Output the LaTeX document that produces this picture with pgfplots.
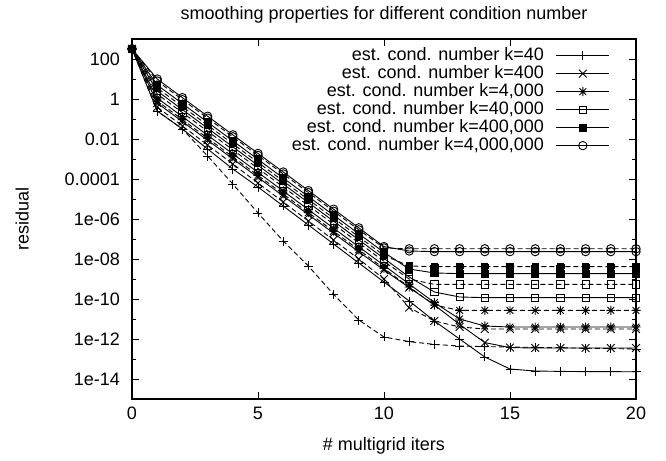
\documentclass[border=0pt]{standalone}
\usepackage{fontspec}
\setmainfont{Liberation Sans}
\usepackage{pgfplots}
\pgfplotsset{compat=1.18}

% gnuplot point type 3: + and x on top of each other
\pgfdeclareplotmark{gpstar}{%
  \pgfpathmoveto{\pgfqpoint{-\pgfplotmarksize}{0pt}}%
  \pgfpathlineto{\pgfqpoint{\pgfplotmarksize}{0pt}}%
  \pgfpathmoveto{\pgfqpoint{0pt}{-\pgfplotmarksize}}%
  \pgfpathlineto{\pgfqpoint{0pt}{\pgfplotmarksize}}%
  \pgfpathmoveto{\pgfqpoint{-.75\pgfplotmarksize}{-.75\pgfplotmarksize}}%
  \pgfpathlineto{\pgfqpoint{.75\pgfplotmarksize}{.75\pgfplotmarksize}}%
  \pgfpathmoveto{\pgfqpoint{-.75\pgfplotmarksize}{.75\pgfplotmarksize}}%
  \pgfpathlineto{\pgfqpoint{.75\pgfplotmarksize}{-.75\pgfplotmarksize}}%
  \pgfusepathqstroke}

\newcommand\gpfont{\fontsize{18bp}{21bp}\selectfont}

\pgfplotsset{
  sol/.style={black, line width=0.9bp},
  dsh/.style={black, line width=0.9bp, dash pattern=on 5bp off 3bp, mark options={solid}},
  mplus/.style={mark=+, mark size=4.5bp},
  mx/.style={mark=x, mark size=5.5bp},
  mstar/.style={mark=gpstar, mark size=4.5bp},
  mosq/.style={mark=square, mark size=3.6bp},
  mfsq/.style={mark=square*, mark size=3.6bp, mark options={fill=black}},
  mcirc/.style={mark=o, mark size=4.2bp},
}

\begin{document}
\begin{tikzpicture}
\path[use as bounding box] (-132bp,-62bp) rectangle (534bp,399bp);
\begin{axis}[
  scale only axis,
  width=504bp, height=360bp,
  xmin=0, xmax=20,
  ymode=log, ymin=1e-15, ymax=1e3,
  clip=false,
  axis line style={line width=1.1bp},
  tick align=inside,
  major tick length=7bp, minor tick length=4bp,
  every tick/.style={black, line width=0.8bp},
  xtick={0,5,10,15,20},
  xticklabels={0,5,10,15,20},
  minor xtick={},
  ytick={1e2,1,1e-2,1e-4,1e-6,1e-8,1e-10,1e-12,1e-14},
  yticklabels={100,1,0.01,0.0001,1e-06,1e-08,1e-10,1e-12,1e-14},
  minor ytick={1e3,1e1,1e-1,1e-3,1e-5,1e-7,1e-9,1e-11,1e-13,1e-15},
  xticklabel style={anchor=center, yshift=-14bp, inner sep=0pt},
  yticklabel style={anchor=east, xshift=-12bp, inner sep=0pt},
  tick label style={font=\gpfont},
  label style={font=\gpfont},
  title style={font=\gpfont, at={(axis description cs:0.5,1.05)}, anchor=center},
  title={smoothing properties for different condition number},
  xlabel={\# multigrid iters},
  ylabel={residual},
  xlabel style={at={(axis description cs:0.5,-0.13)}, anchor=center},
  ylabel style={at={(axis description cs:-0.218,0.5)}, anchor=center},
  legend plot pos=right,
  legend cell align=right,
  legend image code/.code={%
    \draw[mark repeat=2, mark phase=2, #1] plot coordinates {(0bp,0bp) (26.5bp,0bp) (53bp,0bp)};},
  legend style={draw=none, fill=none, at={(0.9484,0.978)}, anchor=north east,
    font=\gpfont, inner sep=0pt, row sep=1bp, column sep=12bp,
    nodes={inner sep=0pt, text height=13bp, text depth=4bp}},
]
% solid lines (in the key)
\addplot[sol, mplus] coordinates {
 (0,3.2e2)(1,2.51e-1)(2,3.16e-2)(3,3.16e-3)(4,3.16e-4)(5,3.98e-5)(6,4.47e-6)(7,5.01e-7)(8,5.62e-8)(9,6.31e-9)(10,7.08e-10)
 (11,7.94e-11)(12,7.94e-12)(13,1e-12)(14,1.26e-13)(15,3.16e-14)(16,2.51e-14)(17,2.4e-14)(18,2.34e-14)(19,2.34e-14)(20,2.29e-14)};
\addlegendentry{est. cond. number k=40}
\addplot[sol, mx] coordinates {
 (0,3.2e2)(1,6.31e-1)(2,7.41e-2)(3,8.71e-3)(4,1.02e-3)(5,1.2e-4)(6,1.41e-5)(7,1.66e-6)(8,1.95e-7)(9,2.29e-8)(10,2.82e-9)
 (11,3.72e-10)(12,5.01e-11)(13,5.37e-12)(14,6.61e-13)(15,3.72e-13)(16,3.55e-13)(17,3.55e-13)(18,3.55e-13)(19,3.55e-13)(20,3.55e-13)};
\addlegendentry{est. cond. number k=400}
\addplot[sol, mstar] coordinates {
 (0,3.2e2)(1,1.12e0)(2,1.32e-1)(3,1.55e-2)(4,1.82e-3)(5,2.14e-4)(6,2.51e-5)(7,2.95e-6)(8,3.47e-7)(9,4.07e-8)(10,4.79e-9)
 (11,5.62e-10)(12,6.61e-11)(13,1e-11)(14,4.47e-12)(15,3.98e-12)(16,3.98e-12)(17,3.98e-12)(18,3.98e-12)(19,3.98e-12)(20,3.98e-12)};
\addlegendentry{est. cond. number k=4,000}
\addplot[sol, mosq] coordinates {
 (0,3.2e2)(1,2.51e0)(2,2.95e-1)(3,3.47e-2)(4,4.07e-3)(5,4.79e-4)(6,5.62e-5)(7,6.61e-6)(8,7.76e-7)(9,9.12e-8)(10,1.07e-8)
 (11,1.26e-9)(12,2.24e-10)(13,1.26e-10)(14,1.17e-10)(15,1.17e-10)(16,1.17e-10)(17,1.17e-10)(18,1.17e-10)(19,1.17e-10)(20,1.17e-10)};
\addlegendentry{est. cond. number k=40,000}
\addplot[sol, mfsq] coordinates {
 (0,3.2e2)(1,5.01e0)(2,5.89e-1)(3,6.92e-2)(4,8.13e-3)(5,9.55e-4)(6,1.12e-4)(7,1.32e-5)(8,1.55e-6)(9,1.82e-7)(10,2.14e-8)
 (11,3.16e-9)(12,2.0e-9)(13,1.86e-9)(14,1.86e-9)(15,1.86e-9)(16,1.86e-9)(17,1.86e-9)(18,1.86e-9)(19,1.86e-9)(20,1.86e-9)};
\addlegendentry{est. cond. number k=400,000}
\addplot[sol, mcirc] coordinates {
 (0,3.2e2)(1,1.0e1)(2,1.17e0)(3,1.38e-1)(4,1.62e-2)(5,1.9e-3)(6,2.24e-4)(7,2.63e-5)(8,3.09e-6)(9,3.63e-7)(10,4.17e-8)
 (11,2.51e-8)(12,2.34e-8)(13,2.34e-8)(14,2.34e-8)(15,2.34e-8)(16,2.34e-8)(17,2.34e-8)(18,2.34e-8)(19,2.34e-8)(20,2.34e-8)};
\addlegendentry{est. cond. number k=4,000,000}
% dashed lines (not in the key)
\addplot[dsh, mplus, forget plot] coordinates {
 (0,3.2e2)(1,2.51e-1)(2,3.16e-2)(3,1.41e-3)(4,5.62e-5)(5,2.0e-6)(6,7.94e-8)(7,4.47e-9)(8,1.7e-10)(9,8.91e-12)(10,1.26e-12)
 (11,7.41e-13)(12,5.37e-13)(13,4.47e-13)(14,4.17e-13)(15,3.98e-13)(16,3.8e-13)(17,3.63e-13)(18,3.47e-13)(19,3.31e-13)(20,3.16e-13)};
\addplot[dsh, mx, forget plot] coordinates {
 (0,3.2e2)(1,3.98e-1)(2,4.47e-2)(3,5.01e-3)(4,5.62e-4)(5,6.31e-5)(6,7.08e-6)(7,7.94e-7)(8,8.91e-8)(9,1.0e-8)(10,1.0e-9)
 (11,3.7e-11)(12,8.0e-12)(13,4.0e-12)(14,3.16e-12)(15,3.16e-12)(16,3.16e-12)(17,3.16e-12)(18,3.16e-12)(19,3.16e-12)(20,3.16e-12)};
\addplot[dsh, mstar, forget plot] coordinates {
 (0,3.2e2)(1,7.94e-1)(2,9.33e-2)(3,1.1e-2)(4,1.29e-3)(5,1.51e-4)(6,1.78e-5)(7,2.09e-6)(8,2.45e-7)(9,2.88e-8)(10,3.39e-9)
 (11,3.98e-10)(12,5.01e-11)(13,2.69e-11)(14,2.69e-11)(15,2.69e-11)(16,2.69e-11)(17,2.69e-11)(18,2.69e-11)(19,2.69e-11)(20,2.69e-11)};
\addplot[dsh, mosq, forget plot] coordinates {
 (0,3.2e2)(1,1.78e0)(2,2.09e-1)(3,2.45e-2)(4,2.88e-3)(5,3.39e-4)(6,3.98e-5)(7,4.68e-6)(8,5.5e-7)(9,6.46e-8)(10,7.59e-9)
 (11,1.0e-9)(12,5.37e-10)(13,5.37e-10)(14,5.37e-10)(15,5.37e-10)(16,5.37e-10)(17,5.37e-10)(18,5.37e-10)(19,5.37e-10)(20,5.37e-10)};
\addplot[dsh, mfsq, forget plot] coordinates {
 (0,3.2e2)(1,3.55e0)(2,4.17e-1)(3,4.9e-2)(4,5.75e-3)(5,6.76e-4)(6,7.94e-5)(7,9.33e-6)(8,1.1e-6)(9,1.29e-7)(10,1.51e-8)
 (11,4.47e-9)(12,4.17e-9)(13,4.17e-9)(14,4.17e-9)(15,4.17e-9)(16,4.17e-9)(17,4.17e-9)(18,4.17e-9)(19,4.17e-9)(20,4.17e-9)};
\addplot[dsh, mcirc, forget plot] coordinates {
 (0,3.2e2)(1,7.94e0)(2,9.3e-1)(3,1.1e-1)(4,1.29e-2)(5,1.51e-3)(6,1.78e-4)(7,2.09e-5)(8,2.45e-6)(9,2.88e-7)(10,3.55e-8)
 (11,3.24e-8)(12,3.24e-8)(13,3.24e-8)(14,3.24e-8)(15,3.24e-8)(16,3.24e-8)(17,3.24e-8)(18,3.24e-8)(19,3.24e-8)(20,3.24e-8)};
\end{axis}
\end{tikzpicture}
\end{document}
